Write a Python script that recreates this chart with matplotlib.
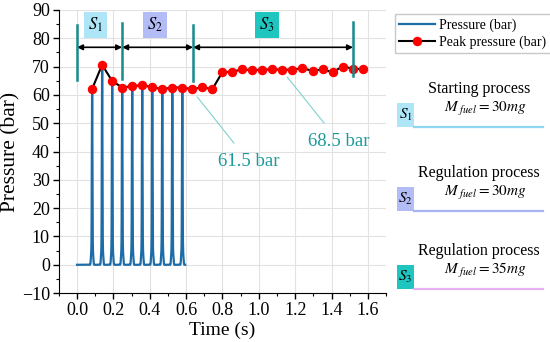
import matplotlib.pyplot as plt
import numpy as np
from matplotlib.patches import Rectangle
from matplotlib.lines import Line2D

plt.rcParams["font.family"] = ["Liberation Serif", "DejaVu Serif"]
plt.rcParams["mathtext.fontset"] = "stix"

# peak pressure per cycle (bar)
peak_t0 = 0.083
peak_dt = 0.0551
peak_p = [62.1, 70.6, 64.9, 62.6, 63.1, 63.4, 62.7, 62.0, 62.6, 62.6,
          62.0, 62.7, 62.0, 68.0, 68.2, 69.0, 68.7, 68.9, 69.0, 68.9,
          68.9, 69.4, 68.5, 69.0, 68.0, 70.0, 69.3, 69.0]
n_spikes = 10          # pressure trace only shown for the first cycles
trace_end = 0.595
hump_p = 5.0           # compression hump under each spike (bar)

# stage boundaries (s) and marker bar extents (bar)
stage_t = [0.0, 0.248, 0.638, 1.518]
stage_lo = [65.3, 65.5, 64.9, 66.7]
stage_hi = [84.7, 85.3, 84.7, 85.9]
stage_names = ["$S_1$", "$S_2$", "$S_3$"]
stage_label_t = [0.103, 0.428, 1.043]
stage_colors = ["#aee6f8", "#b4bcf6", "#1ec6bf"]
line_colors = ["#8fd6f2", "#a8b4f2", "#e7b0f2"]
stage_titles = ["Starting process", "Regulation process", "Regulation process"]
stage_fuel = [30, 30, 35]

peak_t = peak_t0 + peak_dt * np.arange(len(peak_p))

# pressure trace: narrow combustion spike on top of a small compression hump
t = np.linspace(0.0, trace_end, 6000)
p = np.zeros_like(t)
for tk, pk in zip(peak_t[:n_spikes], peak_p[:n_spikes]):
    p += (pk - hump_p) * np.exp(-((t - tk) / 0.0022) ** 2)
    p += hump_p * np.exp(-((t - tk) / 0.0075) ** 4)

fig = plt.figure(figsize=(5.5, 3.42), dpi=100)
ax = fig.add_axes([0.107, 0.143, 0.595, 0.828])

teal = "#178a8a"
ax.plot(t, p, color="#1b6ca8", lw=1.6, label="Pressure (bar)", zorder=3)
ax.plot(peak_t, peak_p, color="black", lw=1.5, marker="o", ms=5.8,
        mfc="red", mec="red", label="Peak pressure (bar)", zorder=4)

for x, lo, hi in zip(stage_t, stage_lo, stage_hi):
    ax.plot([x, x], [lo, hi], color=teal, lw=1.8, zorder=5)
for a, b in zip(stage_t[:-1], stage_t[1:]):
    ax.annotate("", xy=(b, 76.8), xytext=(a, 76.8),
                arrowprops=dict(arrowstyle="<|-|>", color="black", lw=1.2,
                                mutation_scale=8, shrinkA=0, shrinkB=0))
for name, x, c in zip(stage_names, stage_label_t, stage_colors):
    ax.text(x, 84.7, name, ha="center", va="center", fontsize=12,
            bbox=dict(boxstyle="square,pad=0.25", fc=c, ec="none"))

ax.annotate("61.5 bar", xy=(0.661, 59.3), xytext=(0.946, 36.3),
            ha="center", va="center", fontsize=13.5, color="#1b9a9a",
            arrowprops=dict(arrowstyle="-", color="#7fd0d0", lw=0.8,
                            shrinkA=7, shrinkB=0))
ax.annotate("68.5 bar", xy=(1.156, 66.3), xytext=(1.442, 43.4),
            ha="center", va="center", fontsize=13.5, color="#1b9a9a",
            arrowprops=dict(arrowstyle="-", color="#7fd0d0", lw=0.8,
                            shrinkA=7, shrinkB=0))

ax.set_xlim(-0.1, 1.7)
ax.set_ylim(-10, 90)
ax.set_xticks(np.arange(0, 1.61, 0.2))
ax.set_xticks(np.arange(-0.1, 1.71, 0.1), minor=True)
ax.set_yticks(np.arange(-10, 91, 10))
ax.set_yticks(np.arange(-10, 91, 5), minor=True)
ax.xaxis.set_major_formatter(plt.FuncFormatter(lambda v, _: f"{v:.1f}"))
ax.grid(True, color="#e2e2e2", lw=0.8)
ax.set_axisbelow(True)
for s in ("top", "right"):
    ax.spines[s].set_visible(False)
ax.tick_params(direction="out", labelsize=13, length=4.5, width=1, pad=2)
ax.tick_params(which="minor", direction="out", length=2.5, width=0.8)
ax.set_xlabel("Time (s)", fontsize=14, labelpad=2)
ax.set_ylabel("Pressure (bar)", fontsize=15.5, labelpad=1)

fig.legend(loc="upper left", bbox_to_anchor=(0.718, 0.958), fontsize=10,
           handlelength=2.6, frameon=True, fancybox=False,
           edgecolor="#bbbbbb", borderpad=0.3, labelspacing=0.25,
           handletextpad=0.3, borderaxespad=0)

# right-hand stage key, in pixel coordinates of the figure
side = fig.add_axes([0, 0, 1, 1], zorder=-1)
side.set_xlim(0, 550)
side.set_ylim(342, 0)
side.axis("off")
key_y = [127, 211, 289]
for y, name, c, lc, title, fuel in zip(key_y, stage_names, stage_colors,
                                        line_colors, stage_titles, stage_fuel):
    side.add_patch(Rectangle((397, y - 24), 17, 24, fc=c, ec="none"))
    side.text(405.5, y - 12, name, ha="center", va="center", fontsize=11)
    side.add_line(Line2D([414, 543], [y, y], color=lc, lw=1.6))
    side.text(479, y - 38, title, ha="center", va="center", fontsize=11.5)
    side.text(485, y - 18, rf"$M_{{\ fuel}} = {fuel}mg$",
              ha="center", va="center", fontsize=11)

fig.savefig("out.png", dpi=100)
